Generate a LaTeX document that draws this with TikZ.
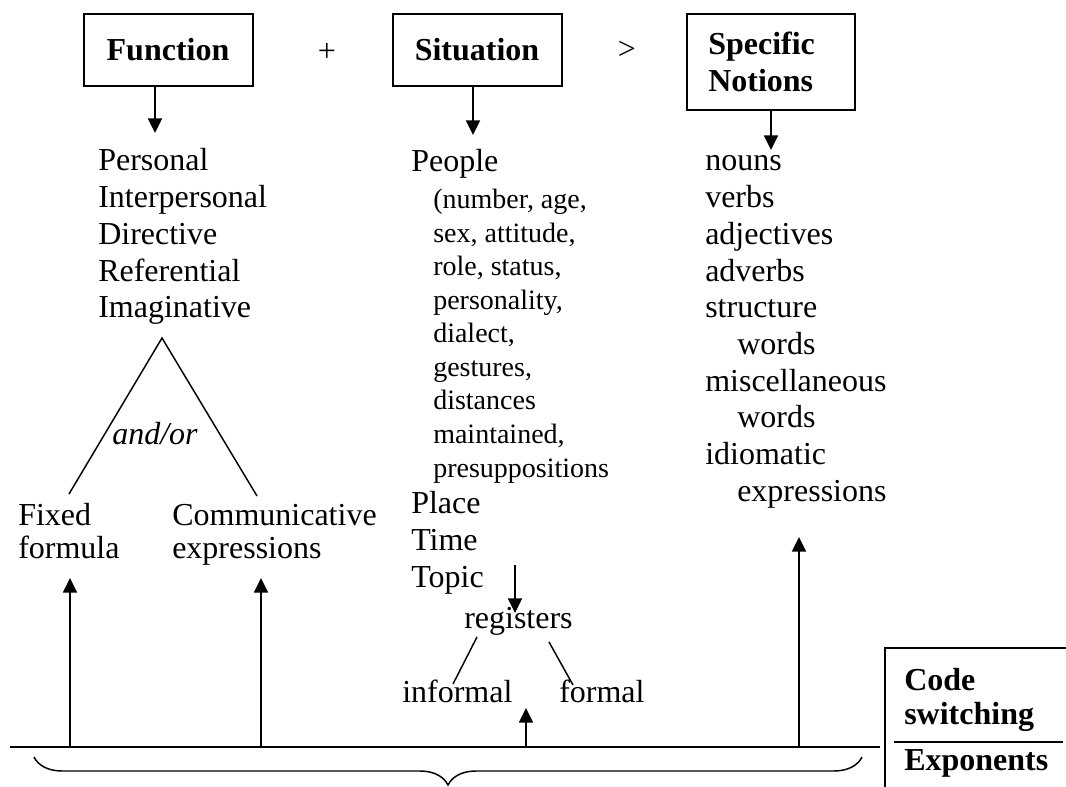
\documentclass[tikz,border=0pt]{standalone}
\usepackage{fontspec}
\setmainfont{Liberation Serif}
\usetikzlibrary{arrows.meta,decorations.pathreplacing}
\begin{document}
\begin{tikzpicture}[x=0.75pt,y=-0.75pt,
  big/.style={font=\fontsize{24}{28}\selectfont, inner sep=0pt, anchor=base west},
  small/.style={font=\fontsize{21}{25}\selectfont, inner sep=0pt, anchor=base west},
  boldt/.style={font=\fontsize{24}{28}\selectfont\bfseries, inner sep=0pt, anchor=base west},
  boxn/.style={draw, line width=1.5pt, inner sep=0pt},
  arr/.style={line width=1.3pt, -{Triangle[length=11pt,width=10.5pt]}},
  ln/.style={line width=1.1pt}]
\useasboundingbox (0,0) rectangle (1066,787);

% top boxes
\node[boxn, minimum width=126.75pt, minimum height=54pt] (fbox) at (168.5,50) {};
\node[boldt, anchor=base] (ftxt) at (168,61) {Function};
\node[boxn, minimum width=126.75pt, minimum height=54pt] (sbox) at (477.5,50) {};
\node[boldt, anchor=base] (stxt) at (477,61) {Situation};
\node[boxn, minimum width=126pt, minimum height=72pt] (nbox) at (771,62) {};
\node[boldt] (ntxt1) at (708,55) {Specific};
\node[boldt] (ntxt2) at (708,92) {Notions};
\node[big, anchor=center] (plus) at (327,52) {+};
\node[big, anchor=center] (gt) at (627,50) {>};

% down arrows from boxes
\coordinate (fa) at (155,133);
\coordinate (sa) at (473,135);
\coordinate (na) at (771,150);
\draw[arr] (fbox.south -| fa) -- (fa);
\draw[arr] (sbox.south -| sa) -- (sa);
\draw[arr] (nbox.south -| na) -- (na);

% function list
\node[big] (f1) at (98,171) {Personal};
\node[big] (f2) at (98,207.75) {Interpersonal};
\node[big] (f3) at (98,244.5) {Directive};
\node[big] (f4) at (98,281.25) {Referential};
\node[big] (f5) at (98,318) {Imaginative};

% and/or triangle
\coordinate (apex) at (162,338);
\coordinate (lf) at (69,494);
\coordinate (rf) at (257,496);
\draw[ln] (lf) -- (apex) -- (rf);
\node[big, font=\fontsize{24}{28}\selectfont\itshape] (andor) at (112,444) {and/or};

\node[big] (fx1) at (18,525) {Fixed};
\node[big] (fx2) at (18,558) {formula};
\node[big] (cm1) at (172,525) {Communicative};
\node[big] (cm2) at (172,558) {expressions};

% situation list
\node[big] (p0) at (411,172) {People};
\node[small] (p1) at (433,209) {(number, age,};
\node[small] (p2) at (433,242.5) {sex, attitude,};
\node[small] (p3) at (433,276) {role, status,};
\node[small] (p4) at (433,309.5) {personality,};
\node[small] (p5) at (433,343) {dialect,};
\node[small] (p6) at (433,376.5) {gestures,};
\node[small] (p7) at (433,410) {distances};
\node[small] (p8) at (433,443.5) {maintained,};
\node[small] (p9) at (433,477) {presuppositions};
\node[big] (pl) at (411,513) {Place};
\node[big] (tm) at (411,550) {Time};
\node[big] (tp) at (411,587) {Topic};

% registers
\coordinate (ta0) at (515,565);
\coordinate (ta1) at (515,613);
\draw[arr] (ta0) -- (ta1);
\node[big] (reg) at (464,628) {registers};
\node[big] (inf) at (402,702) {informal};
\node[big] (frm) at (559,702) {formal};
\coordinate (r1a) at (477,637); \coordinate (r1b) at (453,684);
\coordinate (r2a) at (549,642); \coordinate (r2b) at (573,685);
\draw[ln] (r1a) -- (r1b);
\draw[ln] (r2a) -- (r2b);

% notions list
\node[big] (n1) at (705,171) {nouns};
\node[big] (n2) at (705,207.7) {verbs};
\node[big] (n3) at (705,244.4) {adjectives};
\node[big] (n4) at (705,281.1) {adverbs};
\node[big] (n5) at (705,317.8) {structure};
\node[big] (n6) at (737,354.5) {words};
\node[big] (n7) at (705,391.2) {miscellaneous};
\node[big] (n8) at (737,427.9) {words};
\node[big] (n9) at (705,464.6) {idiomatic};
\node[big] (n10) at (737,501.3) {expressions};

% base line and up arrows
\coordinate (bl) at (10,747);
\coordinate (br) at (880,747);
\draw[ln] (bl) -- (br);
\coordinate (u1) at (70,747);   \coordinate (u1t) at (70,578);
\coordinate (u2) at (261,747);  \coordinate (u2t) at (261,578);
\coordinate (u3) at (526,747);  \coordinate (u3t) at (526,708);
\coordinate (u4) at (799,747);  \coordinate (u4t) at (799,537);
\draw[arr] (u1) -- (u1t);
\draw[arr] (u2) -- (u2t);
\draw[arr] (u3) -- (u3t);
\draw[arr] (u4) -- (u4t);

% brace
\coordinate (b1) at (34,757);
\coordinate (b2) at (862,757);
\draw[ln, decorate, decoration={brace, amplitude=21pt, mirror}] (b1) -- (b2);

% code switching box
\coordinate (cb0) at (885,787);
\coordinate (cb1) at (885,648);
\coordinate (cb2) at (1066,648);
\draw[line width=1.5pt] (cb0) -- (cb1) -- (cb2);
\coordinate (cl1) at (894,742);
\coordinate (cl2) at (1063,742);
\draw[ln] (cl1) -- (cl2);
\node[boldt] (cs1) at (904,690) {Code};
\node[boldt] (cs2) at (904,724) {switching};
\node[boldt] (cs3) at (904,770) {Exponents};
\end{tikzpicture}
\end{document}
